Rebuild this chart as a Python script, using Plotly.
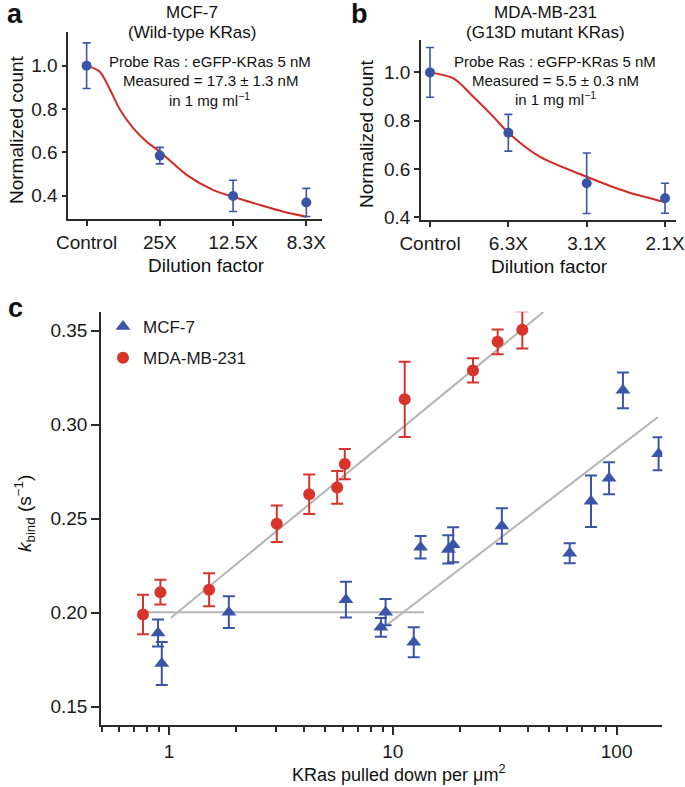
import plotly.graph_objects as go

W, H = 685, 787
FONT = "Liberation Sans, Arial, sans-serif"
BLUE = "#3a55a6"
RED = "#d8342c"
CURVE_RED = "#d42a26"
GRAY = "#b4b4b4"
AXIS = "#2b2b2b"

# ---------------- panel a: MCF-7 ----------------
a_categories = ["Control", "25X", "12.5X", "8.3X"]
a_values = [1.0, 0.585, 0.399, 0.369]
a_errors = [0.105, 0.038, 0.072, 0.065]
a_fit_x = [0.0, 0.18, 0.32, 0.456, 0.64, 0.82, 1.0, 1.37, 1.73, 2.0, 2.37, 2.69, 3.0]
a_fit_y = [1.0, 0.972, 0.889, 0.797, 0.711, 0.649, 0.603, 0.495, 0.426, 0.395, 0.357, 0.326, 0.303]

# ---------------- panel b: MDA-MB-231 ----------------
b_categories = ["Control", "6.3X", "3.1X", "2.1X"]
b_values = [1.0, 0.750, 0.541, 0.479]
b_errors = [0.103, 0.076, 0.125, 0.062]
b_fit_x = [0.0, 0.30, 0.553, 0.81, 1.0, 1.40, 2.0, 2.51, 3.0]
b_fit_y = [1.0, 0.975, 0.899, 0.816, 0.750, 0.651, 0.568, 0.506, 0.463]

# ---------------- panel c ----------------
mcf7_x = [0.893, 0.928, 1.85, 6.17, 9.28, 8.84, 12.4, 13.3, 17.7, 18.6, 30.7, 61.7, 76.8, 92.5, 106.7, 154.0]
mcf7_y = [0.1892, 0.173, 0.2003, 0.2069, 0.2003, 0.1922, 0.1843, 0.2348, 0.2336, 0.2361, 0.2461, 0.2316, 0.2592, 0.2715, 0.3182, 0.2845]
mcf7_err = [0.0072, 0.0114, 0.0084, 0.0095, 0.0070, 0.0050, 0.0080, 0.0060, 0.0075, 0.0093, 0.0094, 0.0053, 0.0137, 0.0085, 0.0095, 0.0088]

mda_x = [0.765, 0.915, 1.51, 3.03, 4.23, 5.64, 6.10, 11.3, 22.8, 29.4, 37.9]
mda_y = [0.199, 0.2109, 0.2122, 0.2473, 0.263, 0.2666, 0.279, 0.3134, 0.3288, 0.344, 0.3504]
mda_err = [0.0105, 0.0066, 0.0088, 0.0097, 0.0105, 0.0087, 0.0080, 0.0200, 0.0064, 0.0066, 0.0099]

mda_fit_x = [1.02, 47.0]
mda_fit_y = [0.1973, 0.3598]
mcf7_flat_x = [0.795, 13.8]
mcf7_flat_y = [0.2003, 0.2003]
mcf7_rise_x = [9.05, 153.0]
mcf7_rise_y = [0.192, 0.304]

c_major_ticks = [1, 10, 100]
c_minor_ticks = [0.5, 0.6, 0.7, 0.8, 0.9, 2, 3, 4, 5, 6, 7, 8, 9, 20, 30, 40, 50, 60, 70, 80, 90]


def px_x(p):
    return p / W


def px_y(p):
    return 1 - p / H


fig = go.Figure()

# panel a
fig.add_trace(go.Scatter(x=a_fit_x, y=a_fit_y, mode="lines",
                         line=dict(color=CURVE_RED, width=2, shape="spline", smoothing=0.8),
                         xaxis="x", yaxis="y", showlegend=False, hoverinfo="skip"))
fig.add_trace(go.Scatter(x=list(range(len(a_categories))), y=a_values, mode="markers",
                         marker=dict(color=BLUE, size=10),
                         error_y=dict(type="data", array=a_errors, color=BLUE, thickness=1.6, width=4),
                         xaxis="x", yaxis="y", showlegend=False, cliponaxis=False))
# panel b
fig.add_trace(go.Scatter(x=b_fit_x, y=b_fit_y, mode="lines",
                         line=dict(color=CURVE_RED, width=2, shape="spline", smoothing=0.8),
                         xaxis="x2", yaxis="y2", showlegend=False, hoverinfo="skip"))
fig.add_trace(go.Scatter(x=list(range(len(b_categories))), y=b_values, mode="markers",
                         marker=dict(color=BLUE, size=10),
                         error_y=dict(type="data", array=b_errors, color=BLUE, thickness=1.6, width=4),
                         xaxis="x2", yaxis="y2", showlegend=False, cliponaxis=False))
# panel c fit lines
for fx, fy in [(mda_fit_x, mda_fit_y), (mcf7_flat_x, mcf7_flat_y), (mcf7_rise_x, mcf7_rise_y)]:
    fig.add_trace(go.Scatter(x=fx, y=fy, mode="lines", line=dict(color=GRAY, width=2),
                             xaxis="x3", yaxis="y3", showlegend=False, hoverinfo="skip"))
fig.add_trace(go.Scatter(x=mcf7_x, y=mcf7_y, mode="markers", name="MCF-7", legendgroup="g1",
                         marker=dict(color=BLUE, size=13, symbol="triangle-up"),
                         error_y=dict(type="data", array=mcf7_err, color=BLUE, thickness=2, width=6),
                         xaxis="x3", yaxis="y3"))
fig.add_trace(go.Scatter(x=mda_x, y=mda_y, mode="markers", name="MDA-MB-231", legendgroup="g2",
                         marker=dict(color=RED, size=12, symbol="circle"),
                         error_y=dict(type="data", array=mda_err, color=RED, thickness=2, width=6),
                         xaxis="x3", yaxis="y3"))

tickfont = dict(family=FONT, size=19, color="#1a1a1a")
common = dict(showline=True, linecolor=AXIS, linewidth=1.6, ticks="outside", tickcolor=AXIS,
              tickwidth=1.5, showgrid=False, zeroline=False, tickfont=tickfont, fixedrange=True,
              automargin=False)

layout = dict(
    width=W, height=H, margin=dict(l=0, r=0, t=0, b=0),
    paper_bgcolor="white", plot_bgcolor="white",
    font=dict(family=FONT, color="#1a1a1a"),
    xaxis=dict(domain=[px_x(68.3), px_x(321.7)], range=[-0.25, 3.21], anchor="y",
               tickvals=list(range(len(a_categories))), ticktext=a_categories, ticklen=5, **common),
    yaxis=dict(domain=[px_y(219), px_y(32.3)], range=[0.2925, 1.154], anchor="x",
               tickvals=[0.4, 0.6, 0.8, 1.0], ticktext=["0.4", "0.6", "0.8", "1.0"], ticklen=5, **common),
    xaxis2=dict(domain=[px_x(421), px_x(676)], range=[-0.115, 3.14], anchor="y2",
                tickvals=list(range(len(b_categories))), ticktext=b_categories, ticklen=5, **common),
    yaxis2=dict(domain=[px_y(220), px_y(40)], range=[0.389, 1.134], anchor="x2",
                tickvals=[0.4, 0.6, 0.8, 1.0], ticktext=["0.4", "0.6", "0.8", "1.0"], ticklen=5, **common),
    xaxis3=dict(domain=[px_x(101), px_x(662.3)], type="log", range=[-0.304, 2.204], anchor="y3",
                tickvals=c_major_ticks, ticktext=[str(v) for v in c_major_ticks], ticklen=8,
                minor=dict(tickvals=c_minor_ticks, ticks="outside", ticklen=5, tickcolor=AXIS, tickwidth=1.5,
                           showgrid=False),
                **common),
    yaxis3=dict(domain=[px_y(725), px_y(311.7)], range=[0.1403, 0.360], anchor="x3",
                tickvals=[0.15, 0.20, 0.25, 0.30, 0.35], ticktext=["0.15", "0.20", "0.25", "0.30", "0.35"],
                ticklen=8, **common),
    showlegend=True,
    legend=dict(x=px_x(103), y=px_y(309), xanchor="left", yanchor="top", bgcolor="rgba(0,0,0,0)",
                font=dict(family=FONT, size=17, color="#1a1a1a"), traceorder="grouped", tracegroupgap=6,
                itemwidth=30),
)

ann = []


def text(x, y, s, size, angle=0, bold=False, xanchor="center"):
    ann.append(dict(x=px_x(x), y=px_y(y), xref="paper", yref="paper", text=("<b>%s</b>" % s) if bold else s,
                    showarrow=False, textangle=angle, xanchor=xanchor, yanchor="middle",
                    font=dict(family=FONT, size=size, color="#111111")))


# panel labels
text(15, 14, "a", 27, bold=True)
text(359, 14, "b", 27, bold=True)
text(15, 308, "c", 27, bold=True)
# titles
text(192, 12.5, "MCF-7", 17)
text(192, 32, "(Wild-type KRas)", 17)
text(545, 12.5, "MDA-MB-231", 17)
text(545, 33, "(G13D mutant KRas)", 17)
# inner notes
text(210, 61.5, "Probe Ras : eGFP-KRas 5 nM", 15)
text(210, 80.5, "Measured = 17.3 ± 1.3 nM", 15)
text(209, 99, "in 1 mg ml<sup>−1</sup>", 15)
text(555, 61.5, "Probe Ras : eGFP-KRas 5 nM", 15)
text(555, 80.5, "Measured = 5.5 ± 0.3 nM", 15)
text(555, 98, "in 1 mg ml<sup>−1</sup>", 15)
# axis titles
text(16, 130, "Normalized count", 19, angle=-90)
text(366, 133, "Normalized count", 19, angle=-90)
text(206, 265, "Dilution factor", 19)
text(549, 266, "Dilution factor", 19)
text(24, 514, "<i>k</i><sub>bind</sub> (s<sup>−1</sup>)", 19, angle=-90)
text(399, 773, "KRas pulled down per μm<sup>2</sup>", 18)

layout["annotations"] = ann
fig.update_layout(**layout)
# remove the browser's default 8px body margin so the 685x787 figure fills the window exactly
fig.write_html("out.html", config={"displayModeBar": False},
               post_script="document.body.style.margin='0px';document.body.style.overflow='hidden';")
